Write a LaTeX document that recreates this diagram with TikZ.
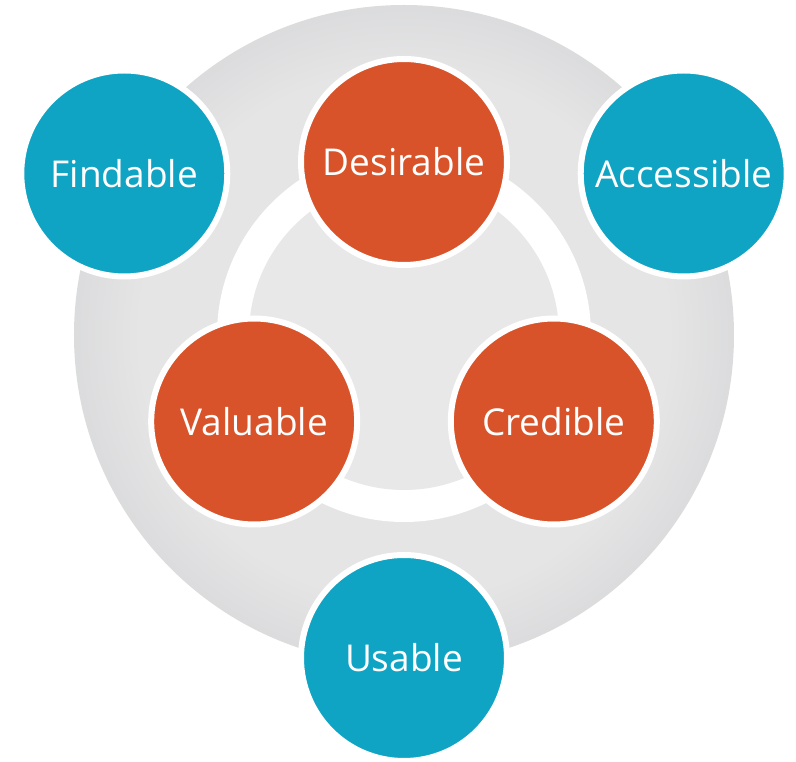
\documentclass[tikz,border=0pt]{standalone}
\usepackage{fontspec}
\setmainfont{Open Sans}
\usetikzlibrary{calc,positioning}

\definecolor{DotOrange}{HTML}{D9532A}
\definecolor{DotBlue}{HTML}{0FA4C3}
\definecolor{RingDark}{HTML}{C7C8CA}
\definecolor{RingLight}{HTML}{E5E5E6}
\definecolor{CoreGrey}{HTML}{E8E8E9}
% the shading is stretched over the diagonal, so the ring edge sits at about 35bp
\pgfdeclareradialshading{RingShade}{\pgfpoint{0bp}{0bp}}{color(0bp)=(RingLight); color(20bp)=(RingLight); color(35.4bp)=(RingDark); color(50bp)=(RingDark)}

\begin{document}
\begin{tikzpicture}[
        x=1pt,y=1pt,
        DotCfg/.style={
            circle,
            draw=white,
            line width=6pt,
            minimum size=206pt,
            inner sep=0pt,
            text=white,
            font=\fontsize{37}{44}\selectfont
        },
        OrangeDot/.style={DotCfg,fill=DotOrange},
        BlueDot/.style={DotCfg,fill=DotBlue}
    ]

    \useasboundingbox (-404,-427) rectangle (392,335);

    %rings
    \coordinate (C) at (0,0);
    \shade[shading=RingShade] (C) circle (330);
    \fill[white] (C) circle (187);
    \fill[CoreGrey] (C) circle (155);

    %inner dots
    \node[OrangeDot] (Desirable) at ($(C)+(90:173)$) {Desirable};
    \node[OrangeDot] (Valuable) at ($(C)+(210:173)$) {Valuable};
    \node[OrangeDot] (Credible) at ($(C)+(330:173)$) {Credible};

    %outer dots
    \node[BlueDot] (Findable) at ($(C)+(150:323)$) {Findable};
    \node[BlueDot] (Accessible) at ($(C)+(30:323)$) {Accessible};
    \node[BlueDot] (Usable) at ($(C)+(270:323)$) {Usable};

\end{tikzpicture}
\end{document}
